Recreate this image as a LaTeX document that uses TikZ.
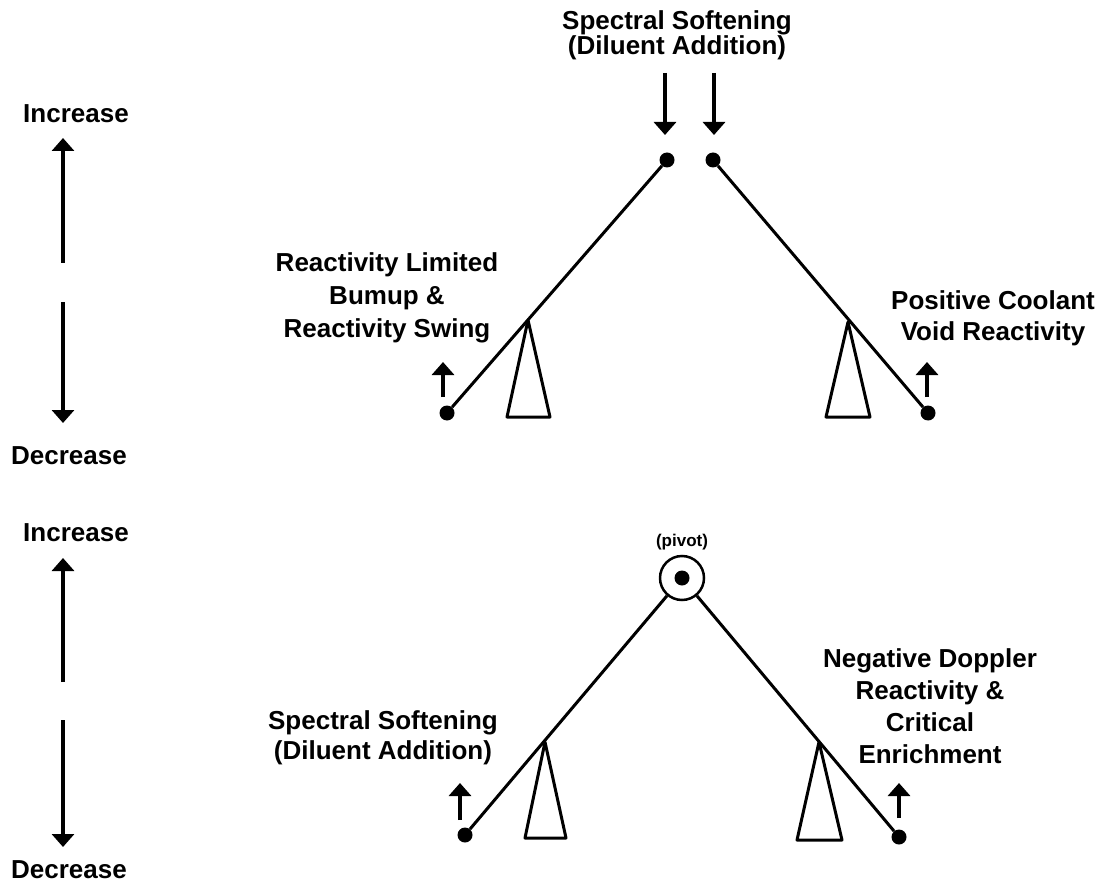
\documentclass[tikz,border=0pt]{standalone}
\usepackage{fontspec}
\setmainfont{Liberation Sans}
\usetikzlibrary{arrows.meta}
\tikzset{
  >={Triangle[width=22pt,length=13pt]},
}
\tikzstyle{lever}=[line width=3pt]
\tikzstyle{push}=[line width=3.5pt,->]
\tikzstyle{fulcrum}=[line width=3pt,line join=round]
\tikzstyle{weight}=[circle,fill,inner sep=0pt,minimum size=15pt]
\tikzstyle{every node}=[font=\bfseries\fontsize{26}{31}\selectfont,align=center]

\begin{document}
\begin{tikzpicture}[x=1pt,y=-1pt]
    \useasboundingbox (0,0) rectangle (1099,890);
    % up/down scales on the left
    \node (incA) at (76,114) {Increase};
    \node (decA) at (69,456) {Decrease};
    \node (incB) at (76,533) {Increase};
    \node (decB) at (69,870) {Decrease};
    \coordinate (upA) at (63,263);
    \coordinate (downA) at (63,302);
    \coordinate (upB) at (63,682);
    \coordinate (downB) at (63,720);
    \draw[push] (upA) -- (63,138);
    \draw[push] (downA) -- (63,423);
    \draw[push] (upB) -- (63,558);
    \draw[push] (downB) -- (63,847);

    % upper lever: split at the top
    \node[font=\bfseries\fontsize{26}{25}\selectfont] (soften) at (677,35)
      {Spectral Softening\\(Diluent Addition)};
    \node[weight] (tl) at (667,160) {};
    \node[weight] (tr) at (713,160) {};
    \node[weight] (bl) at (447,413) {};
    \node[weight] (br) at (928,413) {};
    \draw[lever] (tl) -- (bl);
    \draw[lever] (tr) -- (br);
    \draw[fulcrum] (528,320) -- (507,417) -- (550,417) -- cycle;
    \draw[fulcrum] (848,322) -- (826,417) -- (870,417) -- cycle;
    \coordinate (pushL) at (665,73);
    \coordinate (pushR) at (714,73);
    \draw[push] (pushL) -- (665,135);
    \draw[push] (pushR) -- (714,135);
    \coordinate (liftL) at (443,397);
    \coordinate (liftR) at (927,397);
    \draw[push] (liftL) -- (443,362);
    \draw[push] (liftR) -- (927,362);
    \node[font=\bfseries\fontsize{26}{33}\selectfont] (burnup) at (387,298)
      {Reactivity Limited\\Bumup \&\\Reactivity Swing};
    \node (void) at (993,318) {Positive Coolant\\Void Reactivity};

    % lower lever: fixed pivot
    \node[font=\bfseries\fontsize{17}{20}\selectfont] (pivlabel) at (682,542) {(pivot)};
    \node[circle,draw,line width=2.5pt,minimum size=44pt,inner sep=0pt] (pivot) at (682,578) {};
    \node[weight] (pivdot) at (682,578) {};
    \node[weight] (pl) at (465,835) {};
    \node[weight] (pr) at (899,837) {};
    \draw[lever] (pivot) -- (pl);
    \draw[lever] (pivot) -- (pr);
    \draw[fulcrum] (545,742) -- (525,838) -- (566,838) -- cycle;
    \draw[fulcrum] (819,742) -- (797,840) -- (842,840) -- cycle;
    \coordinate (raiseL) at (460,820);
    \coordinate (raiseR) at (899,818);
    \draw[push] (raiseL) -- (460,783);
    \draw[push] (raiseR) -- (899,783);
    \node[font=\bfseries\fontsize{26}{30}\selectfont] (diluent) at (383,738)
      {Spectral Softening\\(Diluent Addition)};
    \node[font=\bfseries\fontsize{26}{32}\selectfont] (doppler) at (930,706)
      {Negative Doppler\\Reactivity \&\\Critical\\Enrichment};
\end{tikzpicture}
\end{document}
